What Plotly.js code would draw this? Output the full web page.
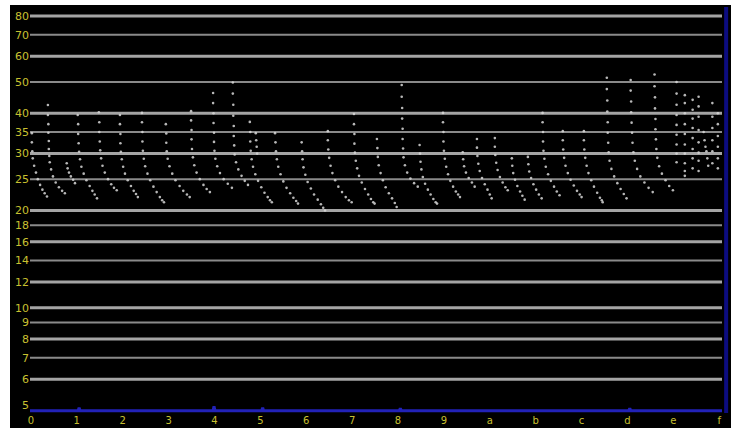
<!DOCTYPE html>
<html>
<head>
<meta charset="utf-8">
<script src="https://cdn.plot.ly/plotly-3.0.1.min.js"></script>
<style>
html,body{margin:0;padding:0;background:#ffffff;width:739px;height:428px;overflow:hidden;}
#chart{position:absolute;left:10px;top:5px;width:721px;height:423px;}
</style>
</head>
<body>
<div id="chart"></div>
<script>
// x tick positions and labels (hex digits)
const xTickVals = [0,1,2,3,4,5,6,7,8,9,10,11,12,13,14,15];
const xTickText = ['0','1','2','3','4','5','6','7','8','9','a','b','c','d','e','f'];
// y tick labels (log scale)
const yTickVals = [5,6,7,8,9,10,12,14,16,18,20,25,30,35,40,50,60,70,80];
const gridThick = [80,60,40,30,20,16,12,10,8,6];
const gridThin = [70,50,35,25,18,14,9,7];

// dots of each decaying sweep
const chirpX = [
 [0.02,0.02,0.03,0.04,0.07,0.11,0.15,0.20,0.25,0.30,0.35],
 [0.37,0.37,0.38,0.38,0.39,0.39,0.40,0.41,0.44,0.48,0.54,0.61,0.68,0.74],
 [0.78,0.80,0.83,0.87,0.92,0.96],
 [1.02,1.03,1.03,1.04,1.05,1.07,1.10,1.15,1.21,1.28,1.34,1.39,1.44],
 [1.48,1.49,1.49,1.50,1.51,1.53,1.56,1.61,1.68,1.75,1.81,1.87],
 [1.94,1.94,1.95,1.95,1.96,1.98,2.01,2.05,2.11,2.18,2.24,2.29,2.33],
 [2.42,2.42,2.43,2.43,2.44,2.46,2.49,2.54,2.60,2.67,2.74,2.81,2.86,2.90],
 [2.94,2.95,2.95,2.96,2.98,3.02,3.08,3.15,3.24,3.32,3.40,3.46],
 [3.49,3.49,3.50,3.50,3.51,3.53,3.56,3.61,3.68,3.76,3.83,3.90],
 [3.97,3.97,3.98,3.98,3.99,3.99,4.00,4.02,4.06,4.12,4.20,4.29,4.38],
 [4.40,4.40,4.41,4.41,4.42,4.42,4.43,4.44,4.47,4.52,4.59,4.66,4.73],
 [4.77,4.78,4.78,4.79,4.81,4.84,4.89,4.95,5.02,5.09,5.16,5.21,5.25,4.90,4.91,4.92,4.93],
 [5.32,5.33,5.34,5.36,5.39,5.44,5.50,5.57,5.65,5.72,5.78,5.82],
 [5.90,5.91,5.92,5.94,5.98,6.03,6.10,6.17,6.25,6.32,6.37,6.41],
 [6.47,6.47,6.48,6.50,6.53,6.57,6.63,6.70,6.78,6.86,6.93,6.99],
 [7.04,7.04,7.05,7.05,7.06,7.08,7.11,7.15,7.21,7.28,7.35,7.41,7.46,7.49],
 [7.54,7.55,7.56,7.58,7.62,7.67,7.73,7.80,7.87,7.93,7.97],
 [8.08,8.08,8.09,8.09,8.10,8.10,8.11,8.12,8.15,8.20,8.27,8.35,8.43],
 [8.47,8.48,8.49,8.51,8.54,8.59,8.65,8.71,8.77,8.82,8.85],
 [8.98,8.98,8.99,8.99,9.00,9.02,9.05,9.09,9.14,9.20,9.26,9.31,9.35],
 [9.41,9.42,9.44,9.48,9.54,9.61,9.67],
 [9.72,9.72,9.73,9.75,9.78,9.83,9.89,9.95,10.00,10.04],
 [10.11,10.11,10.12,10.14,10.17,10.22,10.28,10.34,10.39],
 [10.48,10.49,10.51,10.55,10.60,10.66,10.71,10.76],
 [10.83,10.84,10.86,10.90,10.95,11.01,11.07,11.13],
 [11.15,11.15,11.16,11.16,11.17,11.19,11.22,11.27,11.33,11.40,11.46,11.52],
 [11.59,11.59,11.60,11.62,11.65,11.70,11.76,11.83,11.90,11.96,12.00],
 [12.05,12.05,12.06,12.08,12.11,12.15,12.21,12.27,12.34,12.40,12.44,12.46],
 [12.55,12.55,12.56,12.56,12.57,12.57,12.58,12.59,12.61,12.65,12.71,12.78,12.85,12.92,12.98],
 [13.07,13.07,13.08,13.08,13.09,13.10,13.11,13.13,13.16,13.21,13.28,13.37,13.46,13.55],
 [13.59,13.59,13.60,13.60,13.61,13.61,13.62,13.63,13.65,13.69,13.75,13.83,13.91,13.99]
];
const chirpY = [
 [34.7,32.5,30.5,29,27.5,26.2,25,24,23.2,22.6,22.1],
 [42.4,39.5,37,34.8,32.8,31,29.5,28.2,26.8,25.5,24.4,23.6,23,22.6],
 [28,27,26.2,25.5,24.9,24.3],
 [39.5,37,34.5,32.3,30.4,28.8,27.3,26,24.8,23.8,23,22.4,21.8],
 [40.3,37.5,35,32.7,30.7,29,27.5,26.2,25,24.1,23.5,23.1],
 [39.5,37,34.5,32.3,30.4,28.8,27.3,26,24.8,23.8,23,22.5,22],
 [40.1,37.5,35,32.7,30.6,28.9,27.4,26,24.8,23.7,22.8,22,21.5,21.2],
 [37,34.6,32.4,30.5,28.9,27.4,26,24.8,23.8,23,22.4,22],
 [40.6,38,35.5,33.2,31,29.2,27.6,26.2,25,24,23.3,22.8],
 [46.2,43,40,37.3,34.8,32.6,30.6,28.9,27.4,26.1,25,24.2,23.5],
 [49.8,46,42.5,39.3,36.5,34,31.8,29.8,28.2,26.8,25.6,24.7,24],
 [37.6,35,32.7,30.6,28.8,27.3,25.9,24.7,23.6,22.7,22,21.5,21.2,34.7,33,31.5,30],
 [34.7,32.5,30.5,28.8,27.3,25.9,24.6,23.5,22.6,21.9,21.4,21],
 [32.5,30.5,28.8,27.2,25.8,24.5,23.4,22.4,21.6,20.9,20.4,20],
 [35.2,33,30.9,29.1,27.5,26.1,24.8,23.7,22.8,22,21.5,21.2],
 [39.8,37,34.5,32.2,30.2,28.5,27,25.6,24.4,23.3,22.4,21.7,21.2,21],
 [33.3,31.2,29.3,27.6,26.1,24.8,23.6,22.6,21.8,21.1,20.5],
 [48.9,45,41.5,38.5,35.8,33.3,31.1,29.2,27.6,26.2,25.1,24.3,23.7],
 [31.9,30,28.3,26.8,25.4,24.2,23.2,22.4,21.7,21.2,21],
 [40.1,37.5,35,32.7,30.6,28.9,27.3,25.9,24.7,23.7,22.9,22.4,22],
 [30.3,28.8,27.4,26.2,25.2,24.4,23.7],
 [33.3,31.3,29.5,27.9,26.5,25.2,24.1,23.2,22.4,21.8],
 [33.5,31.5,29.7,28.1,26.7,25.4,24.4,23.6,23.1],
 [29,27.5,26.1,24.9,23.8,22.9,22.2,21.6],
 [29.3,27.8,26.4,25.2,24.1,23.2,22.4,21.8],
 [40.1,37.5,35,32.7,30.6,28.9,27.3,25.9,24.7,23.7,22.9,22.3],
 [35.2,33,30.9,29.1,27.5,26.1,24.9,23.9,23,22.4,22],
 [35.2,33,30.9,29.1,27.5,26.1,24.8,23.7,22.7,21.9,21.5,21.2],
 [51.5,47.5,43.8,40.5,37.5,34.8,32.4,30.3,28.5,26.9,25.5,24.3,23.3,22.5,21.8],
 [50.7,47,43.5,40.3,37.4,34.8,32.4,30.3,28.5,26.9,25.5,24.4,23.5,22.8],
 [52.7,48.5,44.8,41.4,38.4,35.7,33.2,31,29.1,27.4,26,24.8,23.8,23.1]
];
// scattered dots at the right end
const clusterX = [14.07,14.07,14.07,14.07,14.07,14.07,14.07,14.07,14.07,
 14.25,14.25,14.25,14.25,14.25,14.25,14.25,14.25,14.25,14.25,
 14.42,14.42,14.42,14.42,14.42,14.42,14.42,14.42,
 14.55,14.55,14.55,14.55,14.55,14.55,14.55,14.55,
 14.66,14.68,14.70,14.72,14.74,14.76,
 14.85,14.85,14.85,14.85,14.85,14.85,
 14.97,14.97,14.97,14.97,14.97,14.97];
const clusterY = [50,46,42.5,39.5,36.8,34.3,32,30,28.2,
 45.5,43,40,37,34.5,32,30,28,26.5,25.6,
 44,41,38.5,36,33.5,31,29,27,
 45,42,39,35.5,32.5,30.2,28.5,26.5,
 35,33,31.5,30.5,29,27.5,
 43,39,36,33,30.5,28,
 40,37,34,31.5,29,27];
// blue base line along the bottom
const baseX = [-0.02,1.03,1.05,1.07,3.97,3.99,4.01,5.03,5.05,5.07,8.03,8.05,8.07,13.03,13.05,13.07,15.06];
const baseY = [4.8,4.8,4.9,4.8,4.8,4.95,4.8,4.8,4.9,4.8,4.8,4.88,4.8,4.8,4.88,4.8,4.8];

const dotX = [].concat(...chirpX, clusterX);
const dotY = [].concat(...chirpY, clusterY);

const shapes = [];
gridThick.forEach(v => shapes.push({type:'line', xref:'paper', yref:'y', x0:0, x1:1, y0:v, y1:v,
  line:{color:'#a4a4a4', width:3}, layer:'below'}));
gridThin.forEach(v => shapes.push({type:'line', xref:'paper', yref:'y', x0:0, x1:1, y0:v, y1:v,
  line:{color:'#8a8a8a', width:2}, layer:'below'}));
shapes.push({type:'line', xref:'paper', yref:'paper', x0:1.006, x1:1.006, y0:0, y1:1,
  line:{color:'#0c0c80', width:4}});

const traces = [
  {x: baseX, y: baseY, type:'scatter', mode:'lines', line:{color:'#2222b8', width:3}, hoverinfo:'skip'},
  {x: dotX, y: dotY, type:'scatter', mode:'markers',
   marker:{color:'rgba(215,215,215,0.85)', size:2.6, line:{width:0}}, hoverinfo:'skip'}
];

const layout = {
  width: 721, height: 423,
  margin: {l:20, r:9, t:2, b:15},
  paper_bgcolor: '#000000',
  plot_bgcolor: '#000000',
  showlegend: false,
  font: {family:'DejaVu Sans', color:'#c8c030', size:10},
  xaxis: {range:[-0.02, 15.06], tickvals:xTickVals, ticktext:xTickText, showgrid:false,
    zeroline:false, showline:false, ticks:'', tickfont:{size:10, color:'#c8c030'}},
  yaxis: {type:'log', range:[Math.log10(4.72), Math.log10(85.3)], tickvals:yTickVals,
    ticktext:yTickVals.map(String), showgrid:false, zeroline:false, showline:false,
    ticks:'', tickfont:{size:11, color:'#c8c030'}},
  shapes: shapes
};

Plotly.newPlot('chart', traces, layout, {displayModeBar:false, staticPlot:true});
</script>
</body>
</html>
